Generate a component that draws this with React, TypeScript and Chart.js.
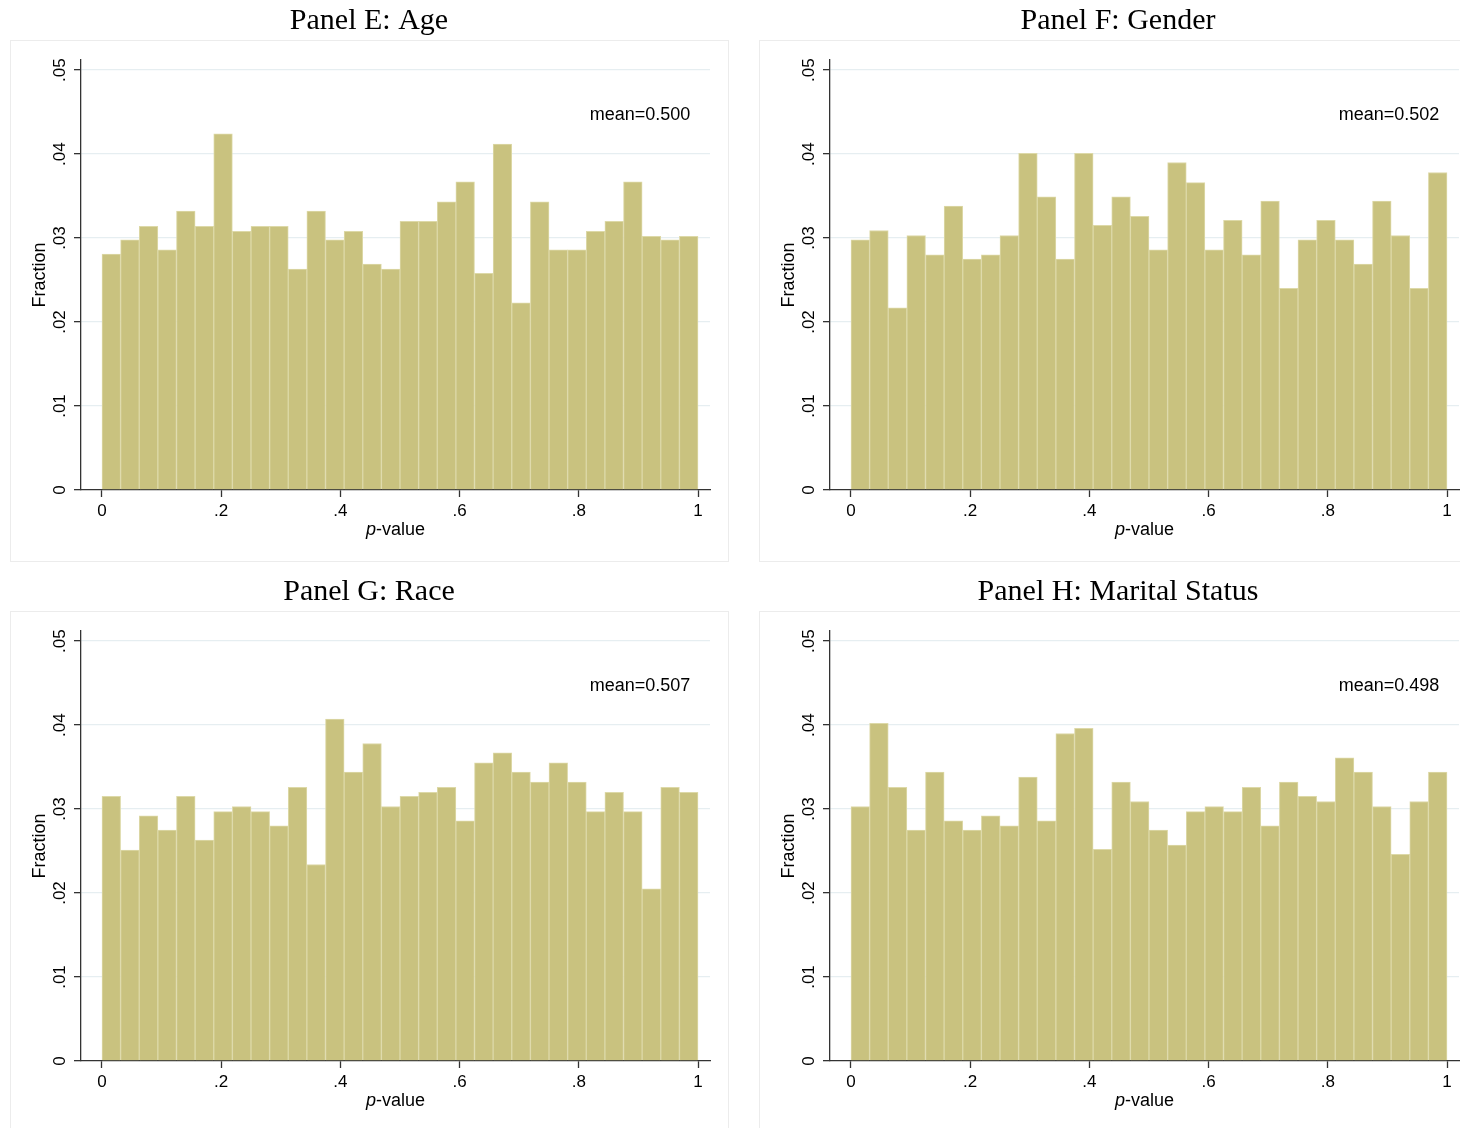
import React, { useEffect, useRef } from 'react';
import { Chart, registerables } from 'chart.js';

Chart.register(...registerables);

// ---------- data ----------
const BIN_COUNT = 32;

const ageFractions = [
  0.0281, 0.0298, 0.0314, 0.0286, 0.0332, 0.0314, 0.0424, 0.0308,
  0.0314, 0.0314, 0.0263, 0.0332, 0.0298, 0.0308, 0.0269, 0.0263,
  0.0320, 0.0320, 0.0343, 0.0367, 0.0258, 0.0412, 0.0223, 0.0343,
  0.0286, 0.0286, 0.0308, 0.0320, 0.0367, 0.0302, 0.0298, 0.0302,
];

const genderFractions = [
  0.0298, 0.0309, 0.0217, 0.0303, 0.0280, 0.0338, 0.0275, 0.0280,
  0.0303, 0.0401, 0.0349, 0.0275, 0.0401, 0.0315, 0.0349, 0.0326,
  0.0286, 0.0390, 0.0366, 0.0286, 0.0321, 0.0280, 0.0344, 0.0240,
  0.0298, 0.0321, 0.0298, 0.0269, 0.0344, 0.0303, 0.0240, 0.0378,
];

const raceFractions = [
  0.0315, 0.0251, 0.0292, 0.0275, 0.0315, 0.0263, 0.0297, 0.0303,
  0.0297, 0.0280, 0.0326, 0.0234, 0.0407, 0.0344, 0.0378, 0.0303,
  0.0315, 0.0320, 0.0326, 0.0286, 0.0355, 0.0367, 0.0344, 0.0332,
  0.0355, 0.0332, 0.0297, 0.0320, 0.0297, 0.0205, 0.0326, 0.0320,
];

const maritalFractions = [
  0.0303, 0.0402, 0.0326, 0.0275, 0.0344, 0.0286, 0.0275, 0.0292,
  0.0280, 0.0338, 0.0286, 0.0390, 0.0396, 0.0252, 0.0332, 0.0309,
  0.0275, 0.0257, 0.0297, 0.0303, 0.0297, 0.0326, 0.0280, 0.0332,
  0.0315, 0.0309, 0.0361, 0.0344, 0.0303, 0.0246, 0.0309, 0.0344,
];

const panelTitles = ['Panel E: Age', 'Panel F: Gender', 'Panel G: Race', 'Panel H: Marital Status'];
const meanLabels = ['mean=0.500', 'mean=0.502', 'mean=0.507', 'mean=0.498'];

const xTickValues = [0, 0.2, 0.4, 0.6, 0.8, 1];
const xTickLabels = ['0', '.2', '.4', '.6', '.8', '1'];
const yTickValues = [0, 0.01, 0.02, 0.03, 0.04, 0.05];
const yTickLabels = ['0', '.01', '.02', '.03', '.04', '.05'];

// ---------- styling / layout ----------
const CANVAS_W = 738;
const CANVAS_H = 571;
const SANS = '"Liberation Sans", Arial, Helvetica, sans-serif';
const SERIF = '"Liberation Serif", "Times New Roman", serif';
const AXIS_COLOR = '#333333';
const GRID_COLOR = '#e6eef1';
const BAR_FILL = '#c9c27f';
const BAR_EDGE = '#ddd9a8';
const X_MIN = -0.0352;
const X_MAX = 1.0201;
const Y_MAX = 0.0512;
const MEAN_POS_X = 0.987;
const MEAN_POS_Y = 0.0447;

const binCenters = Array.from({ length: BIN_COUNT }, (_, i) => (i + 0.5) / BIN_COUNT);

const panelDecor = {
  id: 'panelDecor',
  beforeDraw(chart: any) {
    const { ctx, chartArea } = chart;
    ctx.save();
    ctx.fillStyle = '#ffffff';
    ctx.fillRect(0, 0, chart.width, chart.height);
    ctx.strokeStyle = '#ececec';
    ctx.lineWidth = 1;
    const left = chartArea.left - 71;
    const top = chartArea.top - 20;
    const right = chartArea.right + 18;
    const bottom = chartArea.bottom + 71;
    ctx.strokeRect(left + 0.5, top + 0.5, right - left, bottom - top);
    ctx.restore();
  },
  afterDraw(chart: any, _args: any, opts: any) {
    const { ctx, chartArea, scales } = chart;
    ctx.save();
    ctx.fillStyle = '#000';
    ctx.textBaseline = 'middle';
    // mean annotation
    ctx.font = `18px ${SANS}`;
    ctx.textAlign = 'right';
    ctx.fillText(opts.meanText, scales.x.getPixelForValue(MEAN_POS_X), scales.y.getPixelForValue(MEAN_POS_Y));
    // x-axis title with italic p
    const italic = `italic 18px ${SANS}`;
    const normal = `18px ${SANS}`;
    ctx.font = italic;
    const w1 = ctx.measureText('p').width;
    ctx.font = normal;
    const w2 = ctx.measureText('-value').width;
    const cx = (chartArea.left + chartArea.right) / 2;
    const startX = cx - (w1 + w2) / 2;
    const ty = chartArea.bottom + 40;
    ctx.textAlign = 'left';
    ctx.font = italic;
    ctx.fillText('p', startX, ty);
    ctx.font = normal;
    ctx.fillText('-value', startX + w1, ty);
    ctx.restore();
  },
};

function buildConfig(title: string, values: number[], meanText: string): any {
  return {
    type: 'bar',
    data: {
      datasets: [
        {
          data: binCenters.map((x, i) => ({ x, y: values[i] })),
          backgroundColor: BAR_FILL,
          borderColor: BAR_EDGE,
          borderWidth: 1,
          borderSkipped: 'start',
          categoryPercentage: 1,
          barPercentage: 1,
        },
      ],
    },
    plugins: [panelDecor],
    options: {
      animation: false,
      responsive: false,
      devicePixelRatio: 1,
      events: [],
      layout: { padding: { left: 28, right: 28, top: 0, bottom: 21 } },
      plugins: {
        legend: { display: false },
        tooltip: { enabled: false },
        title: {
          display: true,
          text: title,
          color: '#000',
          font: { family: SERIF, size: 30, weight: 'normal', lineHeight: 1.2 },
          padding: { top: 3, bottom: 21 },
        },
        panelDecor: { meanText },
      },
      scales: {
        x: {
          type: 'linear',
          min: X_MIN,
          max: X_MAX,
          offset: false,
          z: 1,
          afterBuildTicks: (s: any) => {
            s.ticks = xTickValues.map((v) => ({ value: v }));
          },
          afterFit: (s: any) => {
            s.height = 60;
          },
          ticks: {
            autoSkip: false,
            maxRotation: 0,
            minRotation: 0,
            padding: 4,
            color: '#000',
            font: { family: SANS, size: 17 },
            callback: (_v: any, i: number) => xTickLabels[i],
          },
          grid: {
            offset: false,
            drawOnChartArea: false,
            drawTicks: true,
            tickLength: 7,
            tickColor: AXIS_COLOR,
            tickWidth: 1.3,
          },
          border: { display: true, color: AXIS_COLOR, width: 1.3 },
          title: { display: false },
        },
        y: {
          type: 'linear',
          min: 0,
          max: Y_MAX,
          afterBuildTicks: (s: any) => {
            s.ticks = yTickValues.map((v) => ({ value: v }));
          },
          afterFit: (s: any) => {
            s.width = 53;
          },
          ticks: {
            autoSkip: false,
            minRotation: 90,
            maxRotation: 90,
            crossAlign: 'center',
            padding: 2,
            color: '#000',
            font: { family: SANS, size: 17 },
            callback: (_v: any, i: number) => yTickLabels[i],
          },
          grid: {
            color: (c: any) => (c.tick && c.tick.value === 0 ? 'rgba(0,0,0,0)' : GRID_COLOR),
            lineWidth: 1.3,
            drawTicks: true,
            tickLength: 7,
            tickColor: AXIS_COLOR,
            tickWidth: 1.3,
          },
          border: { display: true, color: AXIS_COLOR, width: 1.3 },
          title: {
            display: true,
            text: 'Fraction',
            color: '#000',
            font: { family: SANS, size: 18, lineHeight: 1.2 },
            padding: { top: 1, bottom: 0 },
          },
        },
      },
    },
  };
}

function Panel(props: { title: string; values: number[]; meanText: string; left: number; top: number }) {
  const ref = useRef<HTMLCanvasElement>(null);
  useEffect(() => {
    const chart = new Chart(ref.current as HTMLCanvasElement, buildConfig(props.title, props.values, props.meanText));
    return () => chart.destroy();
  }, [props.title, props.values, props.meanText]);
  return (
    <canvas
      ref={ref}
      width={CANVAS_W}
      height={CANVAS_H}
      style={{ position: 'absolute', left: props.left, top: props.top, width: CANVAS_W, height: CANVAS_H }}
    />
  );
}

export default function App() {
  const series = [ageFractions, genderFractions, raceFractions, maritalFractions];
  const positions = [
    { left: 0, top: 0 },
    { left: 749, top: 0 },
    { left: 0, top: 571 },
    { left: 749, top: 571 },
  ];
  return (
    <div
      style={{
        position: 'absolute',
        left: 0,
        top: 0,
        width: 1460,
        height: 1128,
        overflow: 'hidden',
        background: '#fff',
      }}
    >
      {series.map((vals, i) => (
        <Panel
          key={i}
          title={panelTitles[i]}
          values={vals}
          meanText={meanLabels[i]}
          left={positions[i].left}
          top={positions[i].top}
        />
      ))}
    </div>
  );
}
